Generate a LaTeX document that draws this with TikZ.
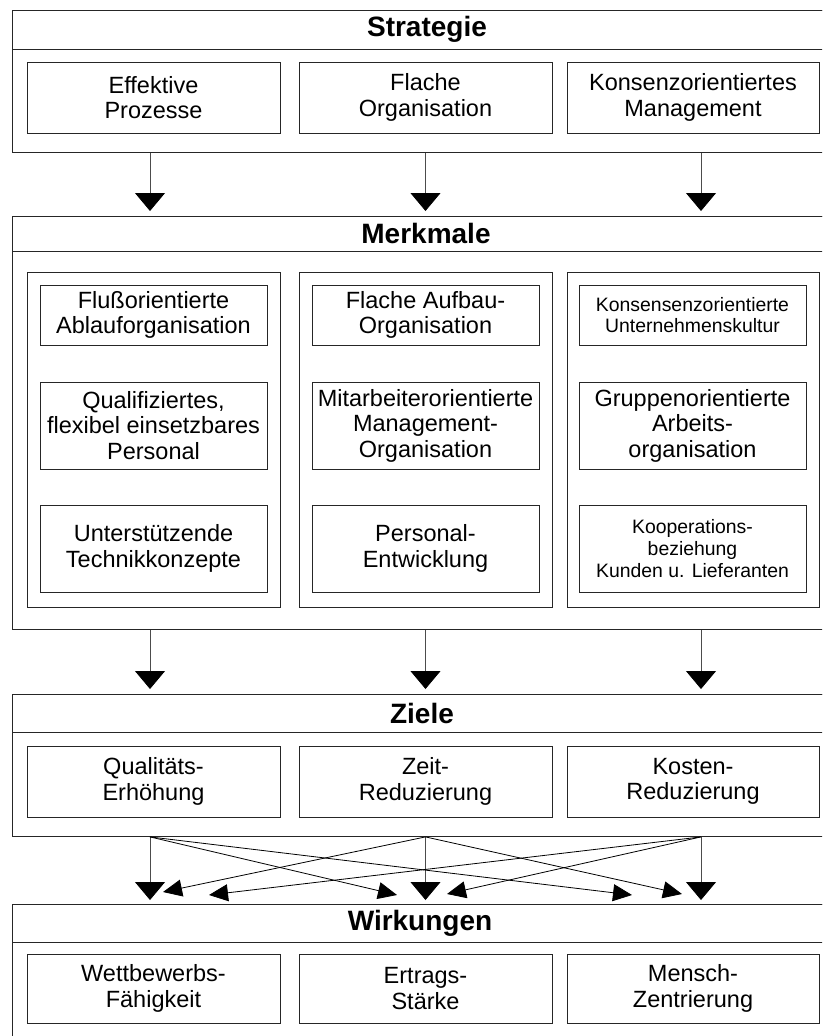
\documentclass[tikz,border=0pt]{standalone}
\usepackage{fontspec}
\setmainfont{Liberation Sans}
\usetikzlibrary{arrows.meta}
\begin{document}
\begin{tikzpicture}[x=1pt,y=-1pt,
  frame/.style={draw=black!85, line width=0.9pt},
  band/.style={frame, anchor=north west, minimum width=828pt, inner sep=0pt},
  ttl/.style={font=\fontsize{28}{30}\selectfont\bfseries, inner sep=0pt},
  bx/.style={frame, align=center, inner sep=0pt, font=\fontsize{23.5}{25.5}\selectfont},
  sbx/.style={frame, align=center, inner sep=0pt, font=\fontsize{19.4}{21.7}\selectfont},
  col/.style={frame, inner sep=0pt},
  vline/.style={draw=black!70, line width=0.8pt, -{Triangle[width=30pt,length=18pt,color=black,fill=black]}},
  dline/.style={draw=black, line width=0.8pt, -{Triangle[width=17pt,length=19pt,color=black,fill=black]}}
]
\useasboundingbox (0,0) rectangle (822,1036);
\clip (0,0) rectangle (822,1036);
\fill[white] (0,0) rectangle (822,1036);

% ---------- Strategie ----------
\node[band, minimum height=142pt] (strat) at (12,10) {};
\node[band, minimum height=39pt] (stratb) at (12,10) {};
\node[ttl] (stratt) at (427,29.5) {Strategie};
\node[bx, minimum width=253pt, minimum height=71pt] (s1) at (153.5,97.5) {Effektive\\Prozesse};
\node[bx, minimum width=253pt, minimum height=71pt] (s2) at (425.5,97.5) {Flache\\Organisation};
\node[bx, minimum width=252pt, minimum height=71pt] (s3) at (693,97.5) {Konsenzorientiertes\\Management};

% ---------- Merkmale ----------
\node[band, minimum height=413pt] (merk) at (12,216) {};
\node[band, minimum height=35pt] (merkb) at (12,216) {};
\node[ttl] (merkt) at (426,233.5) {Merkmale};
\node[col, minimum width=253pt, minimum height=335pt] (m1) at (153.5,439.5) {};
\node[col, minimum width=253pt, minimum height=335pt] (m2) at (425.5,439.5) {};
\node[col, minimum width=252pt, minimum height=335pt] (m3) at (693,439.5) {};

\node[bx, minimum width=227pt, minimum height=60pt] (m11) at (153.5,315) {Flußorientierte\\Ablauforganisation};
\node[bx, minimum width=227pt, minimum height=87pt] (m12) at (153.5,425.5) {Qualifiziertes,\\flexibel einsetzbares\\Personal};
\node[bx, minimum width=227pt, minimum height=87pt] (m13) at (153.5,548.5) {Unterstützende\\Technikkonzepte};

\node[bx, minimum width=227pt, minimum height=60pt] (m21) at (425.5,315) {Flache Aufbau-\\Organisation};
\node[bx, minimum width=227pt, minimum height=87pt] (m22) at (425.5,425.5) {Mitarbeiterorientierte\\Management-\\Organisation};
\node[bx, minimum width=227pt, minimum height=87pt] (m23) at (425.5,548.5) {Personal-\\Entwicklung};

\node[sbx, minimum width=227pt, minimum height=60pt] (m31) at (692.5,315) {Konsensenzorientierte\\Unternehmenskultur};
\node[bx, minimum width=227pt, minimum height=87pt] (m32) at (692.5,425.5) {Gruppenorientierte\\Arbeits-\\organisation};
\node[sbx, minimum width=227pt, minimum height=87pt] (m33) at (692.5,548.5) {Kooperations-\\beziehung\\Kunden u. Lieferanten};

% ---------- Ziele ----------
\node[band, minimum height=142pt] (ziel) at (12,694) {};
\node[band, minimum height=38pt] (zielb) at (12,694) {};
\node[ttl] (zielt) at (422,713) {Ziele};
\node[bx, minimum width=253pt, minimum height=71pt] (z1) at (153.5,781.5) {Qualitäts-\\Erhöhung};
\node[bx, minimum width=253pt, minimum height=71pt] (z2) at (425.5,781.5) {Zeit-\\Reduzierung};
\node[bx, minimum width=252pt, minimum height=71pt] (z3) at (693,781.5) {Kosten-\\Reduzierung};

% ---------- Wirkungen ----------
\node[band, minimum height=141pt] (wirk) at (12,904) {};
\node[band, minimum height=38pt] (wirkb) at (12,904) {};
\node[ttl] (wirkt) at (420,923) {Wirkungen};
\node[bx, minimum width=253pt, minimum height=69pt] (w1) at (153.5,988.5) {Wettbewerbs-\\Fähigkeit};
\node[bx, minimum width=253pt, minimum height=69pt] (w2) at (425.5,988.5) {Ertrags-\\Stärke};
\node[bx, minimum width=252pt, minimum height=69pt] (w3) at (693,988.5) {Mensch-\\Zentrierung};

% ---------- connectors ----------
\coordinate (c1) at (150,0);
\coordinate (c2) at (425.5,0);
\coordinate (c3) at (701,0);

\foreach \c in {c1,c2,c3}{
  \draw[vline, shorten >=5pt] (strat.south -| \c) -- (merk.north -| \c);
  \draw[vline, shorten >=5pt] (merk.south -| \c) -- (ziel.north -| \c);
  \draw[vline, shorten >=4pt] (ziel.south -| \c) -- (wirk.north -| \c);
}

\coordinate (w1z) at (163,892);
\coordinate (w1k) at (209,895);
\coordinate (w2q) at (397,895);
\coordinate (w2k) at (447,894);
\coordinate (w3q) at (632,895);
\coordinate (w3z) at (682,894);

\draw[dline] (ziel.south -| c2) -- (w1z);
\draw[dline] (ziel.south -| c3) -- (w1k);
\draw[dline] (ziel.south -| c1) -- (w2q);
\draw[dline] (ziel.south -| c3) -- (w2k);
\draw[dline] (ziel.south -| c1) -- (w3q);
\draw[dline] (ziel.south -| c2) -- (w3z);
\end{tikzpicture}
\end{document}
